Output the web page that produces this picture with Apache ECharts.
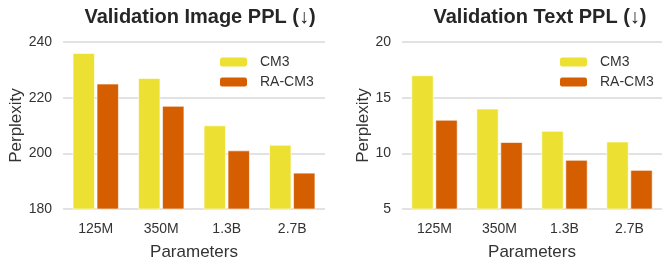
<!DOCTYPE html>
<html><head><meta charset="utf-8">
<script src="https://cdn.jsdelivr.net/npm/echarts@6/dist/echarts.min.js"></script>
<style>html,body{margin:0;padding:0;background:#fff}#c{width:663px;height:263px}</style>
</head><body><div id="c"></div>
<script>
const categories = ['125M', '350M', '1.3B', '2.7B'];
const imageCM3 = [236, 227, 210, 203];
const imageRACM3 = [225, 217, 201, 193];
const textCM3 = [17, 14, 12, 11.05];
const textRACM3 = [13, 11, 9.4, 8.5];
const seriesNames = ['CM3', 'RA-CM3'];
const titles = ['Validation Image PPL (↓)', 'Validation Text PPL (↓)'];
const imageTicks = {min: 180, max: 240, interval: 20};
const textTicks = {min: 5, max: 20, interval: 5};

const FONT = '"Liberation Sans", Arial, sans-serif';
const YELLOW = '#ece133', ORANGE = '#d55e00';
const chart = echarts.init(document.getElementById('c'), null, {renderer: 'canvas'});

function xAxis(i) {
  return {
    type: 'category', gridIndex: i, data: categories,
    axisLine: {show: false}, axisTick: {show: false},
    axisLabel: {fontFamily: FONT, fontSize: 14, color: '#333', margin: 13},
    name: 'Parameters', nameLocation: 'middle', nameGap: 35,
    nameTextStyle: {fontFamily: FONT, fontSize: 17, color: '#333'}
  };
}
function yAxis(i, t, gap) {
  return {
    type: 'value', gridIndex: i, min: t.min, max: t.max, interval: t.interval,
    axisLine: {show: false}, axisTick: {show: false},
    axisLabel: {fontFamily: FONT, fontSize: 14, color: '#333', margin: 11},
    splitLine: {lineStyle: {color: '#d9d9d9', width: 1.5}},
    name: 'Perplexity', nameLocation: 'middle', nameGap: gap,
    nameTextStyle: {fontFamily: FONT, fontSize: 17, color: '#333'}
  };
}
function bar(name, data, color, i) {
  return {
    type: 'bar', name: name, data: data, xAxisIndex: i, yAxisIndex: i,
    barWidth: 22, barGap: '9%',
    itemStyle: {color: color, borderColor: '#fff', borderWidth: 0.6},
    silent: true
  };
}
function legend(left) {
  return {
    left: left, top: 55, padding: 0, orient: 'vertical', itemWidth: 27, itemHeight: 9, itemGap: 6,
    data: seriesNames.map(n => ({name: n, itemStyle: {borderWidth: 0}})),
    textStyle: {fontFamily: FONT, fontSize: 14, color: '#333', padding: [0, 0, 0, 8]},
    selectedMode: false
  };
}

chart.setOption({
  animation: false,
  title: [
    {text: titles[0], left: 195, top: 2, textAlign: 'center',
     textStyle: {fontFamily: FONT, fontSize: 20, fontWeight: 'bold', color: '#262626'}},
    {text: titles[1], left: 535, top: 2, textAlign: 'center',
     textStyle: {fontFamily: FONT, fontSize: 20, fontWeight: 'bold', color: '#262626'}}
  ],
  legend: [legend(220), legend(560)],
  grid: [
    {left: 63, top: 42, width: 262, height: 167, outerBoundsMode: 'none', containLabel: false},
    {left: 402, top: 42, width: 260, height: 167, outerBoundsMode: 'none', containLabel: false}
  ],
  xAxis: [xAxis(0), xAxis(1)],
  yAxis: [yAxis(0, imageTicks, 35), yAxis(1, textTicks, 27)],
  series: [
    bar(seriesNames[0], imageCM3, YELLOW, 0),
    bar(seriesNames[1], imageRACM3, ORANGE, 0),
    bar(seriesNames[0], textCM3, YELLOW, 1),
    bar(seriesNames[1], textRACM3, ORANGE, 1)
  ]
});
</script></body></html>
